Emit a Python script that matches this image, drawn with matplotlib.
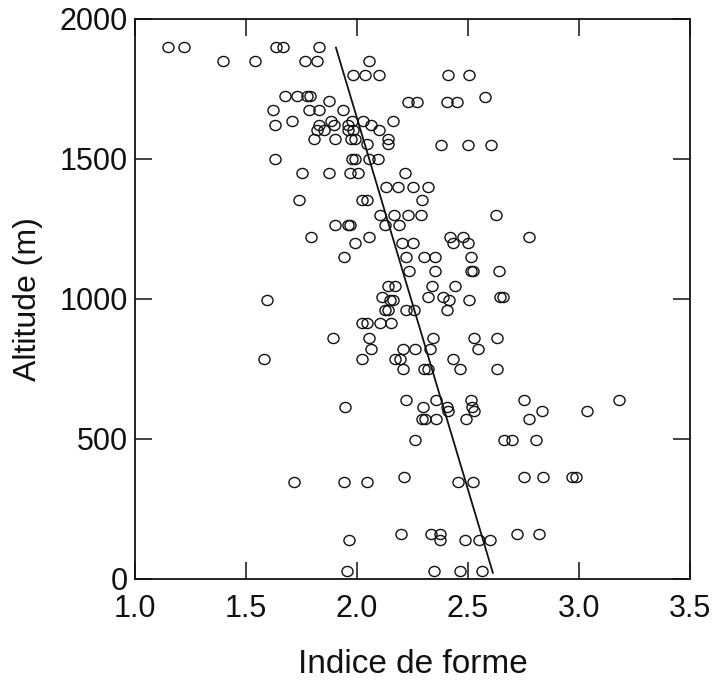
import matplotlib
matplotlib.use("Agg")
import matplotlib.pyplot as plt
from matplotlib.path import Path
from matplotlib.transforms import Affine2D
import numpy as np

plt.rcParams['font.family'] = ['Liberation Sans', 'DejaVu Sans']

# ---- data (rows grouped by altitude) ----
rows = [
    (1900, [1.147, 1.221, 1.635, 1.665, 1.827]),
    (1850, [1.395, 1.539, 1.767, 1.820, 2.052]),
    (1800, [1.984, 2.034, 2.097, 2.409, 2.504]),
    (1725, [1.674, 1.731, 1.777, 1.787]),
    (1720, [2.578]),
    (1708, [1.873]),
    (1705, [2.228, 2.270, 2.406, 2.450]),
    (1675, [1.622, 1.783, 1.831, 1.937]),
    (1635, [1.708, 1.882, 1.977, 2.029, 2.164]),
    (1620, [1.632, 1.828, 1.897, 1.958, 2.064]),
    (1605, [1.822, 1.853, 1.958, 1.983, 2.097]),
    (1570, [1.807, 1.902, 1.972, 1.993, 2.140]),
    (1555, [2.047, 2.140]),
    (1550, [2.379, 2.502, 2.603]),
    (1500, [1.630, 1.977, 1.992, 2.055, 2.095]),
    (1450, [1.751, 1.874, 1.969, 2.005, 2.214]),
    (1400, [2.130, 2.183, 2.250, 2.320]),
    (1355, [1.739, 2.022, 2.046, 2.293]),
    (1300, [2.104, 2.168, 2.230, 2.287, 2.625]),
    (1265, [1.903, 1.960, 1.967, 2.125, 2.189]),
    (1220, [1.793, 2.056, 2.417, 2.479, 2.774]),
    (1200, [1.989, 2.202, 2.250, 2.434, 2.500]),
    (1150, [1.943, 2.221, 2.302, 2.352, 2.513]),
    (1100, [2.234, 2.351, 2.513, 2.521, 2.638]),
    (1045, [2.140, 2.169, 2.338, 2.442]),
    (1007, [2.112, 2.322, 2.386, 2.644, 2.657]),
    (998,  [1.595, 2.149, 2.162, 2.416, 2.503]),
    (960,  [2.125, 2.140, 2.220, 2.258, 2.407]),
    (915,  [2.022, 2.044, 2.102, 2.154]),
    (860,  [1.891, 2.052, 2.342, 2.528, 2.630]),
    (820,  [2.063, 2.209, 2.262, 2.329, 2.544]),
    (785,  [1.582, 2.023, 2.171, 2.194, 2.432]),
    (750,  [2.206, 2.303, 2.322, 2.464, 2.632]),
    (640,  [2.220, 2.356, 2.513, 2.752, 3.181]),
    (615,  [1.944, 2.299, 2.405, 2.517]),
    (600,  [2.412, 2.527, 2.832, 3.037]),
    (570,  [2.292, 2.307, 2.355, 2.490, 2.776]),
    (495,  [2.262, 2.662, 2.700, 2.805]),
    (365,  [2.212, 2.752, 2.839, 2.970, 2.985]),
    (345,  [1.717, 1.942, 2.045, 2.457, 2.522]),
    (160,  [2.198, 2.333, 2.374, 2.720, 2.821]),
    (140,  [1.962, 2.374, 2.487, 2.550, 2.599]),
    (30,   [1.957, 2.347, 2.464, 2.565]),
]

altitude = [alt for alt, xs in rows for _ in xs]
indice = [x for alt, xs in rows for x in xs]

# regression line end points
line_indice = [1.905, 2.612]
line_altitude = [1898, 22]

x_ticks = [1.0, 1.5, 2.0, 2.5, 3.0, 3.5]
x_ticklabels = ["1.0", "1.5", "2.0", "2.5", "3.0", "3.5"]
y_ticks = [0, 500, 1000, 1500, 2000]
y_ticklabels = ["0", "500", "1000", "1500", "2000"]
x_label = "Indice de forme"
y_label = "Altitude (m)"

# ---- figure ----
fig = plt.figure(figsize=(7.14, 6.82), dpi=100)
ax = fig.add_axes([135/714, 1 - 579/682, (690-135)/714, (579-19)/682])

ellipse = Path.unit_circle().transformed(Affine2D().scale(1.1, 1.0))
ax.plot(indice, altitude, linestyle='none', marker=ellipse, markersize=8.0,
        markerfacecolor='none', markeredgecolor='#111111', markeredgewidth=1.0)
ax.plot(line_indice, line_altitude, color='#111111', linewidth=1.3)

ax.set_xlim(1.0, 3.5)
ax.set_ylim(0, 2000)
ax.set_xticks(x_ticks)
ax.set_xticklabels(x_ticklabels)
ax.set_yticks(y_ticks)
ax.set_yticklabels(y_ticklabels)

ax.tick_params(axis='both', direction='in', length=12, width=1.1,
               top=True, right=True, labelsize=22, colors='#111111')
ax.tick_params(axis='x', pad=11)
ax.tick_params(axis='y', pad=5)
for s in ax.spines.values():
    s.set_linewidth(1.3)
    s.set_color('#111111')

ax.set_xlabel(x_label, fontsize=24, labelpad=18, color='#111111')
ax.set_ylabel(y_label, fontsize=23, labelpad=12, color='#111111')

fig.savefig("out.png", dpi=100)
